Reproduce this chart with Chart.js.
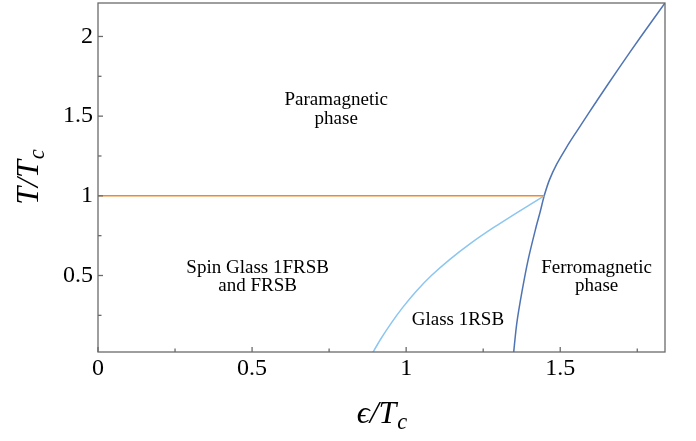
<!DOCTYPE html>
<html>
<head>
<meta charset="utf-8">
<script src="https://cdn.jsdelivr.net/npm/chart.js@4.4.1/dist/chart.umd.min.js"></script>
<style>
    html, body { margin: 0; padding: 0; background: #fff; }
</style>
</head>
<body>
<canvas id="phase" width="696" height="441"></canvas>
<script>
// tick positions
const xTicks = [0, 0.25, 0.5, 0.75, 1, 1.25, 1.5, 1.75];
const yTicks = [0.25, 0.5, 0.75, 1, 1.25, 1.5, 1.75, 2];

// paramagnetic / spin glass boundary (T = Tc)
const paraX = [0, 1.448];
const paraY = [1, 1];

// spin glass FRSB / glass 1RSB boundary
const glassX = [0.887, 0.917, 0.951, 0.989, 1.032, 1.082, 1.141, 1.208, 1.283, 1.364, 1.448];
const glassY = [0.0, 0.1, 0.2, 0.3, 0.4, 0.5, 0.6, 0.7, 0.8, 0.9, 1.0];

// ferromagnetic boundary
const ferroX = [1.348, 1.359, 1.376, 1.396, 1.421, 1.435, 1.448, 1.465, 1.489, 1.519, 1.552, 1.586, 1.620, 1.690, 1.762, 1.84];
const ferroY = [0.0, 0.2, 0.4, 0.6, 0.8, 0.9, 1.0, 1.1, 1.2, 1.3, 1.4, 1.5, 1.6, 1.8, 2.0, 2.21];

// region names
const regionNames = [
    ['Paramagnetic', 'phase'],
    ['Spin Glass 1FRSB', 'and FRSB'],
    ['Glass 1RSB'],
    ['Ferromagnetic', 'phase']
];
const regionX = [0.773, 0.518, 1.168, 1.618];
const regionY = [1.543, 0.491, 0.222, 0.491];

const toPoints = (xs, ys) => xs.map((x, i) => ({ x: x, y: ys[i] }));

const SERIF = '"Liberation Serif", "Times New Roman", serif';
const FRAME = '#6b6b6b';

function drawMath(ctx, parts, size) {
    // parts drawn centred on (0, 0) baseline
    const fonts = parts.map(p => 'italic ' + (p.sub ? size * 0.7 : size) + 'px ' + SERIF);
    const widths = parts.map((p, i) => {
        ctx.font = fonts[i];
        return ctx.measureText(p.t).width;
    });
    const total = widths.reduce((a, b) => a + b, 0);
    let x = -total / 2;
    ctx.textAlign = 'left';
    ctx.textBaseline = 'alphabetic';
    parts.forEach((p, i) => {
        ctx.font = fonts[i];
        ctx.fillText(p.t, x, p.sub ? size * 0.2 : 0);
        x += widths[i] + (p.sub ? 0 : 1);
    });
}

const framePlugin = {
    id: 'frame',
    afterDraw(chart) {
        const ctx = chart.ctx;
        const area = chart.chartArea;
        const xs = chart.scales.x;
        const ys = chart.scales.y;

        ctx.save();
        ctx.strokeStyle = FRAME;
        ctx.lineWidth = 1.3;
        ctx.strokeRect(area.left, area.top, area.right - area.left, area.bottom - area.top);

        // inward ticks
        xTicks.forEach(v => {
            const px = xs.getPixelForValue(v);
            const len = (v % 0.5 === 0) ? 5 : 3.5;
            ctx.beginPath();
            ctx.moveTo(px, area.bottom);
            ctx.lineTo(px, area.bottom - len);
            ctx.stroke();
        });
        yTicks.forEach(v => {
            const py = ys.getPixelForValue(v);
            const len = (v % 0.5 === 0) ? 5 : 3.5;
            ctx.beginPath();
            ctx.moveTo(area.left, py);
            ctx.lineTo(area.left + len, py);
            ctx.stroke();
        });

        // region names
        ctx.fillStyle = '#000';
        ctx.font = '19px ' + SERIF;
        ctx.textAlign = 'center';
        ctx.textBaseline = 'middle';
        regionNames.forEach((lines, i) => {
            const cx = xs.getPixelForValue(regionX[i]);
            const cy = ys.getPixelForValue(regionY[i]);
            const lh = 18.5;
            lines.forEach((s, j) => {
                ctx.fillText(s, cx, cy + (j - (lines.length - 1) / 2) * lh);
            });
        });

        // axis titles
        ctx.save();
        ctx.translate((area.left + area.right) / 2, 423);
        drawMath(ctx, [{ t: '\u03f5/T' }, { t: 'c', sub: true }], 32);
        ctx.restore();

        ctx.save();
        ctx.translate(38, (area.top + area.bottom) / 2);
        ctx.rotate(-Math.PI / 2);
        drawMath(ctx, [{ t: 'T/T' }, { t: 'c', sub: true }], 32);
        ctx.restore();

        ctx.restore();
    }
};

const tickLabel = v => (Math.abs(v / 0.5 - Math.round(v / 0.5)) < 1e-9) ? String(v) : '';

new Chart(document.getElementById('phase').getContext('2d'), {
    type: 'scatter',
    data: {
        datasets: [
            {
                data: toPoints(paraX, paraY),
                showLine: true,
                borderColor: '#f0892a',
                borderWidth: 1.5,
                pointRadius: 0
            },
            {
                data: toPoints(glassX, glassY),
                showLine: true,
                borderColor: '#8cc6f0',
                borderWidth: 1.5,
                pointRadius: 0,
                tension: 0.3
            },
            {
                data: toPoints(ferroX, ferroY),
                showLine: true,
                borderColor: '#4f74b3',
                borderWidth: 1.5,
                pointRadius: 0,
                tension: 0.3
            }
        ]
    },
    options: {
        responsive: false,
        animation: false,
        devicePixelRatio: 1,
        layout: {
            padding: { top: 3, right: 31, left: 0, bottom: 0 }
        },
        plugins: {
            legend: { display: false },
            tooltip: { enabled: false }
        },
        scales: {
            x: {
                type: 'linear',
                min: 0,
                max: 1.84,
                afterBuildTicks: s => { s.ticks = xTicks.map(v => ({ value: v })); },
                afterFit: s => {
                    s.height = 89;
                    s.paddingLeft = 0;
                    s.paddingRight = 0;
                },
                grid: { display: false, drawTicks: false },
                border: { display: false },
                ticks: {
                    callback: tickLabel,
                    autoSkip: false,
                    maxRotation: 0,
                    padding: 2,
                    color: '#000',
                    font: { family: SERIF, size: 24 }
                }
            },
            y: {
                type: 'linear',
                min: 0.02,
                max: 2.21,
                afterBuildTicks: s => { s.ticks = yTicks.map(v => ({ value: v })); },
                afterFit: s => {
                    s.width = 98;
                    s.paddingTop = 0;
                    s.paddingBottom = 0;
                },
                grid: { display: false, drawTicks: false },
                border: { display: false },
                ticks: {
                    callback: tickLabel,
                    autoSkip: false,
                    padding: 5,
                    color: '#000',
                    font: { family: SERIF, size: 24 }
                }
            }
        }
    },
    plugins: [framePlugin]
});
</script>
</body>
</html>
